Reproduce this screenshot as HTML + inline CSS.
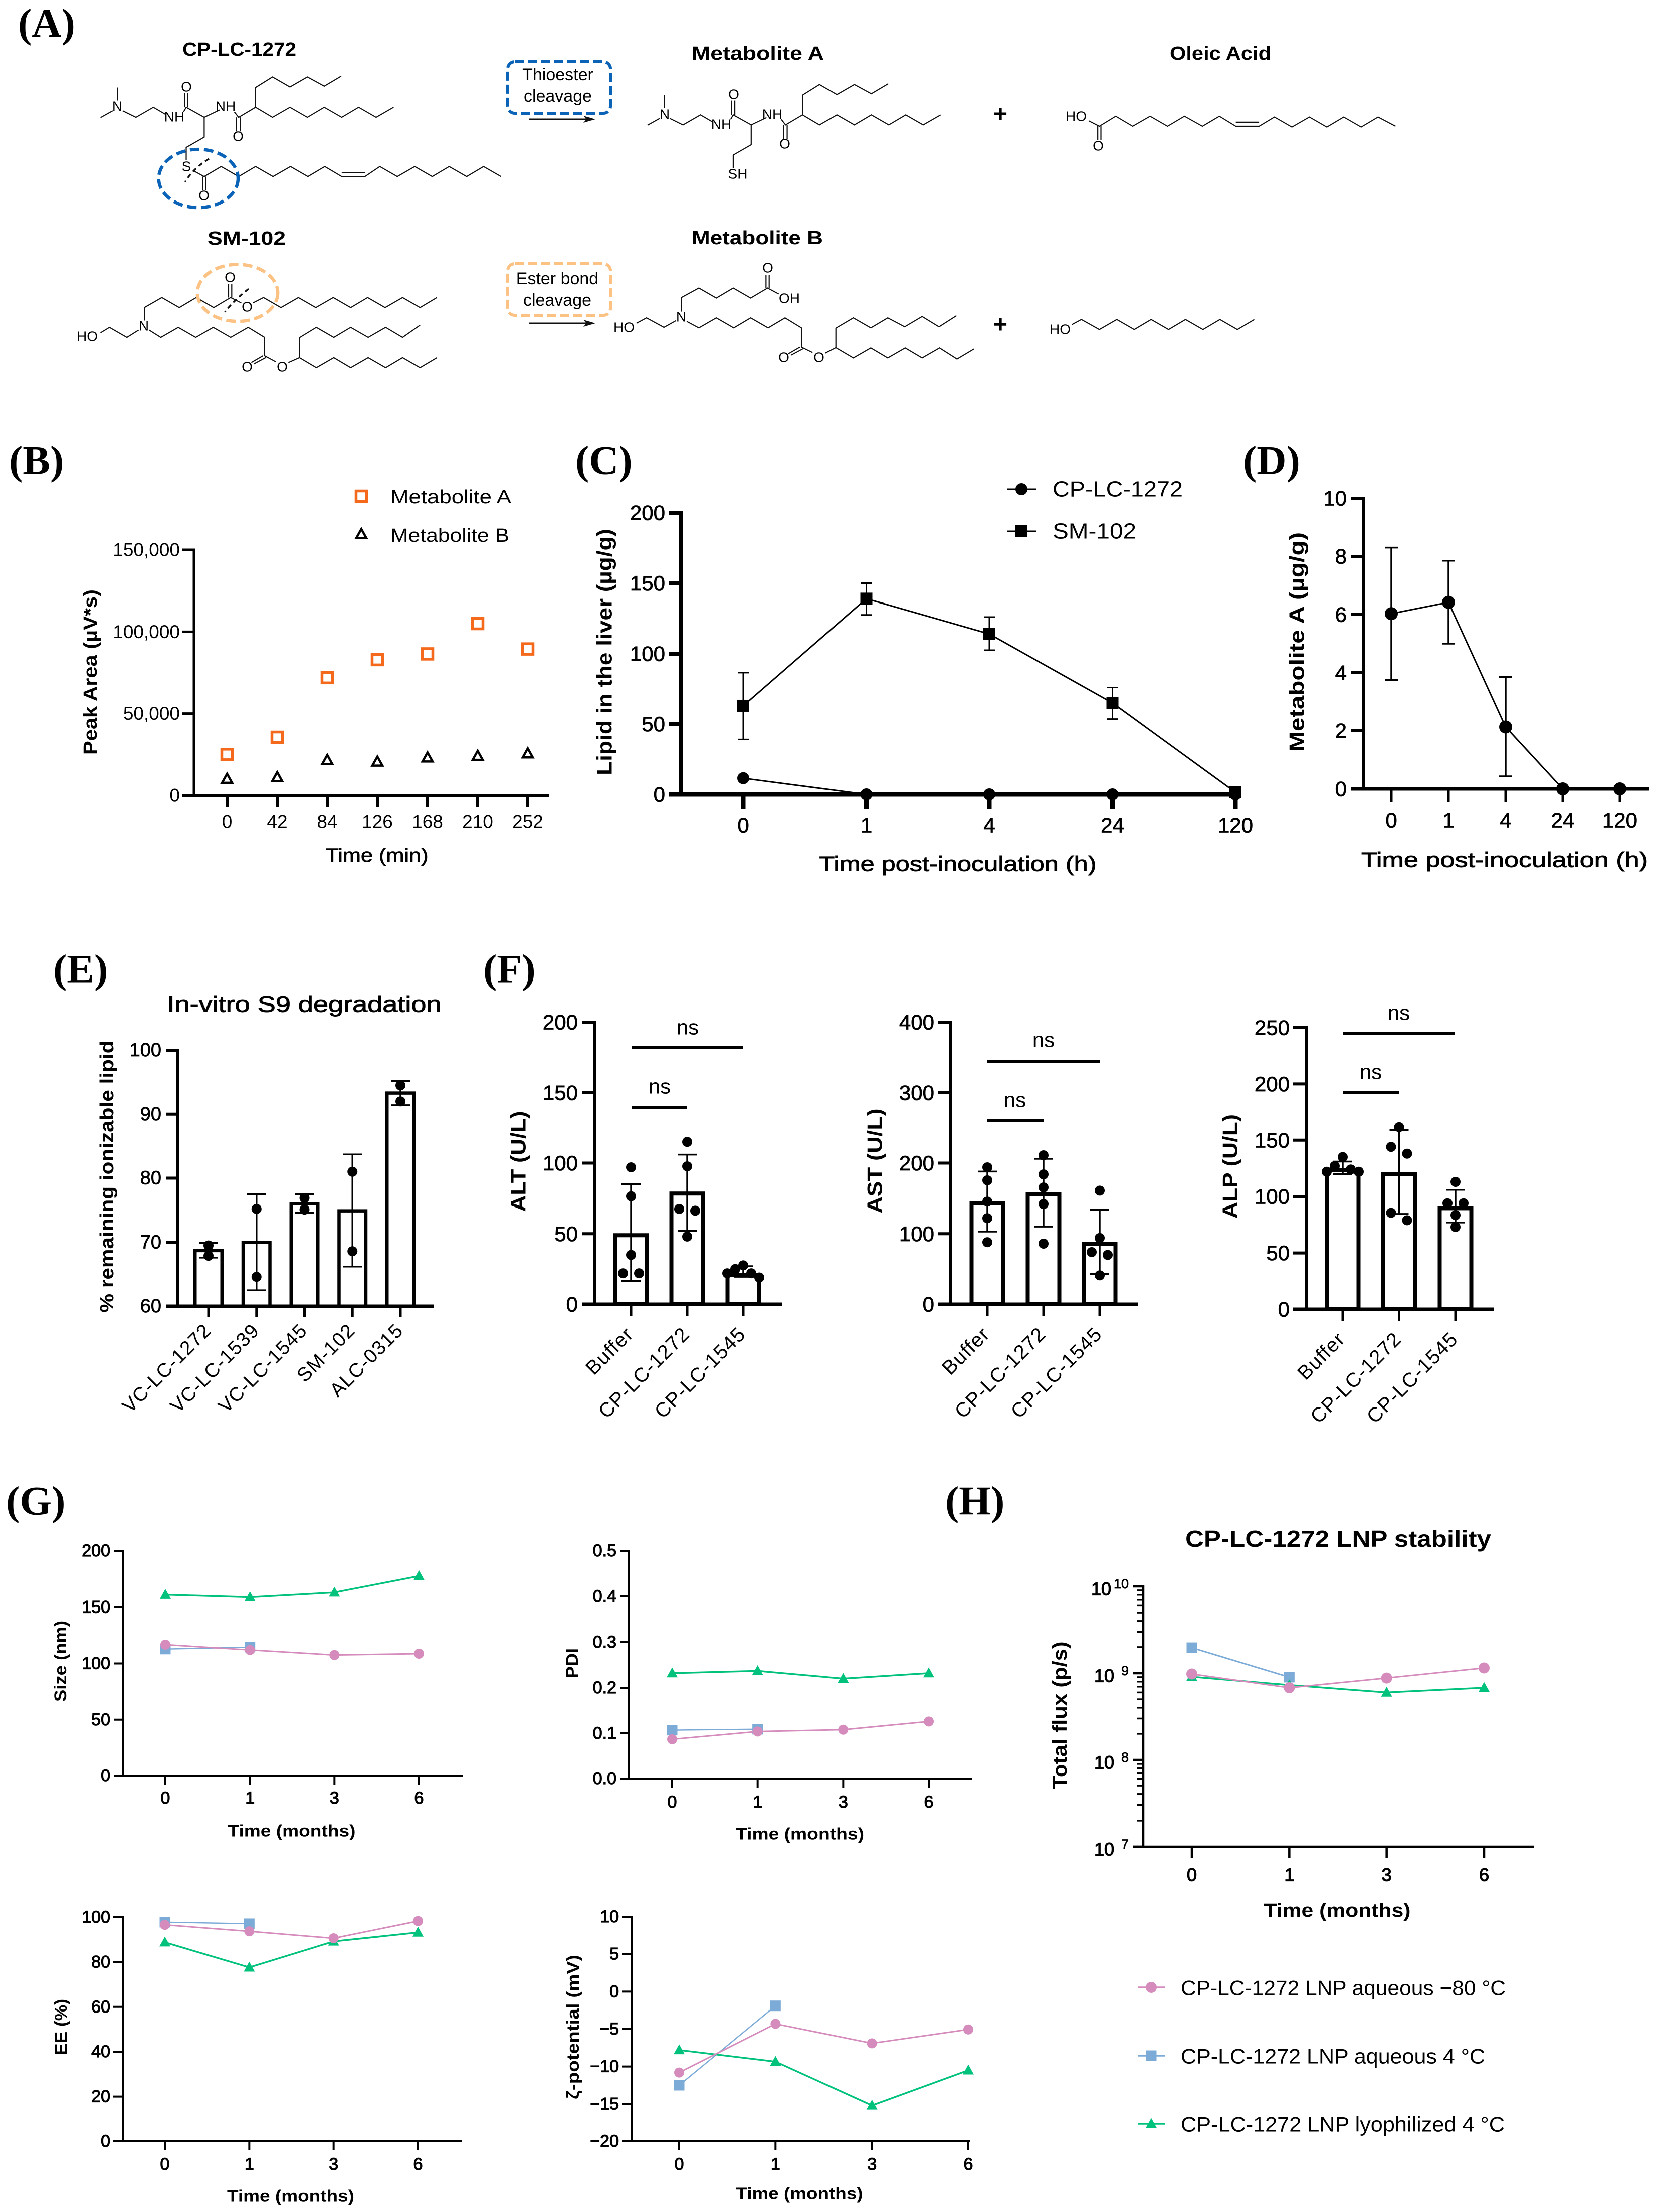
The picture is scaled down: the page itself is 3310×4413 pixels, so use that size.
<!DOCTYPE html>
<html lang="en">
<head>
<meta charset="utf-8">
<title>Lipid metabolism, biodistribution, tolerability and LNP stability figure</title>
<style>
html,body{margin:0;padding:0;background:#fff;}
svg{display:block;}
text{font-family:"Liberation Sans","DejaVu Sans",sans-serif;fill:#000;}
.panel-letter{font-family:"Liberation Serif",serif;font-weight:700;font-size:82px;dominant-baseline:central;}
.chem-bond *{vector-effect:non-scaling-stroke;}
.atom{font-size:28px;text-anchor:middle;dominant-baseline:central;}
.chem-title{font-size:38px;font-weight:700;dominant-baseline:central;}
.box-text{font-size:34px;text-anchor:middle;dominant-baseline:central;}
</style>
</head>
<body>
<svg id="figure" xmlns="http://www.w3.org/2000/svg" width="3310" height="4413" viewBox="0 0 3310 4413">
<rect x="0" y="0" width="3310" height="4413" fill="#fff"/>

<text class="panel-letter" x="36" y="46">(A)</text>
<text class="panel-letter" x="18" y="918">(B)</text>
<text class="panel-letter" x="1148" y="918">(C)</text>
<text class="panel-letter" x="2480" y="918">(D)</text>
<text class="panel-letter" x="106" y="1933">(E)</text>
<text class="panel-letter" x="964" y="1933">(F)</text>
<text class="panel-letter" x="12" y="2994">(G)</text>
<text class="panel-letter" x="1886" y="2994">(H)</text>

<g id="panel-a">
<g class="chem-bond" transform="scale(1.0555,0.542)" fill="none" stroke="#111" stroke-width="2.2">
  <g>
    <polyline points="222,322 222,370"/><polyline points="190,433 213,408"/>
    <polyline points="232,408 257,432 290,395 312,420"/>
    <polyline points="347,412 352,395 386,432 415,405"/>
    <polyline points="349,395 349,342"/><polyline points="355,395 355,342"/>
    <polyline points="443,412 451,432 483,395 483,322 515,283 548,320 581,283 613,317 645,280"/>
    <polyline points="447,432 447,484"/><polyline points="454,432 454,484"/>
    <polyline points="483,395 515,432 548,395 581,432 613,395 646,432 678,395 711,432 744,395"/>
    <polyline points="386,432 386,505 352,543 352,590"/>
    <polyline points="365,628 386,650 418,613 451,650 483,613 516,650 549,613 582,650 614,613 646,650 690,650 718,613 751,650 784,613 817,650 849,613 882,650 914,613 947,650"/>
    <polyline points="383,650 383,700"/><polyline points="389,650 389,700"/>
    <polyline points="646,636 690,636"/>
  </g>
  <g transform="translate(1034,28)">
    <polyline points="222,322 222,370"/><polyline points="190,433 213,408"/>
    <polyline points="232,408 257,432 290,395 312,420"/>
    <polyline points="347,412 352,395 386,432 415,405"/>
    <polyline points="349,395 349,342"/><polyline points="355,395 355,342"/>
    <polyline points="443,412 451,432 483,395 483,322 515,283 548,320 581,283 613,317 645,280"/>
    <polyline points="447,432 447,484"/><polyline points="454,432 454,484"/>
    <polyline points="483,395 515,432 548,395 581,432 613,395 646,432 678,395 711,432 744,395"/>
    <polyline points="386,432 386,505 352,543 352,590"/>
  </g>
  <g>
    <polyline points="2058,445 2078,465 2109,428 2141,465 2174,428 2207,465 2239,428 2273,465 2305,428 2336,465 2380,465 2409,431 2442,468 2475,431 2508,468 2540,431 2573,468 2605,431 2638,465"/>
    <polyline points="2075,465 2075,515"/><polyline points="2081,465 2081,515"/>
    <polyline points="2336,450 2380,450"/>
  </g>
  <g>
    <polyline points="190,1225 207,1205 240,1242 262,1215"/>
    <polyline points="273,1180 273,1132 306,1095 339,1132 371,1095 404,1132 436,1095 456,1115"/>
    <polyline points="432,1095 432,1045"/><polyline points="438,1095 438,1045"/>
    <polyline points="478,1115 498,1095 531,1132 564,1095 597,1132 630,1095 663,1132 695,1095 728,1132 761,1095 794,1132 826,1095"/>
    <polyline points="282,1215 304,1242 337,1205 370,1242 403,1205 436,1242 469,1205 500,1242 500,1310 521,1332"/>
    <polyline points="497,1310 475,1335"/><polyline points="503,1316 480,1340"/>
    <polyline points="545,1335 566,1317 566,1243 598,1205 631,1242 663,1205 696,1242 729,1205 761,1242 794,1197"/>
    <polyline points="566,1317 598,1354 631,1317 663,1354 696,1317 729,1354 761,1317 794,1354 826,1317"/>
  </g>
  <g>
    <polyline points="1203,1190 1222,1170 1255,1205 1278,1180"/>
    <polyline points="1288,1147 1288,1095 1321,1060 1354,1097 1386,1060 1419,1097 1451,1060 1472,1082"/>
    <polyline points="1448,1060 1448,1012"/><polyline points="1454,1060 1454,1012"/>
    <polyline points="1298,1183 1321,1207 1354,1170 1387,1207 1419,1170 1452,1207 1484,1170 1515,1207 1515,1278 1536,1298"/>
    <polyline points="1512,1278 1490,1303"/><polyline points="1518,1284 1495,1308"/>
    <polyline points="1560,1300 1580,1280 1580,1208 1613,1170 1646,1207 1678,1170 1710,1203 1743,1165 1775,1203 1808,1162"/>
    <polyline points="1580,1280 1613,1318 1646,1281 1678,1318 1711,1281 1743,1318 1776,1281 1809,1322 1841,1285"/>
  </g>
  <g>
    <polyline points="2026,1195 2044,1176 2078,1213 2111,1176 2144,1213 2176,1176 2209,1213 2241,1176 2274,1213 2306,1176 2339,1213 2371,1176"/>
  </g>
  <path d="M395,585 Q365,620 350,670" stroke-width="3.5" stroke-dasharray="9 7"/>
  <path d="M470,1063 Q445,1100 425,1148" stroke-width="3.5" stroke-dasharray="9 7"/>
  <ellipse cx="375" cy="657" rx="75" ry="107" stroke="#0b63b8" stroke-width="6.5" stroke-dasharray="19 9"/>
  <ellipse cx="449" cy="1078" rx="76" ry="105" stroke="#fcc283" stroke-width="6.5" stroke-dasharray="19 9"/>
</g>

<g>
<text class="atom" x="372" y="173">O</text>
<text class="atom" x="234" y="212">N</text>
<text class="atom" x="348" y="233">NH</text>
<text class="atom" x="450" y="212">NH</text>
<text class="atom" x="475" y="272">O</text>
<text class="atom" x="372" y="332">S</text>
<text class="atom" x="407" y="390">O</text>
<text class="atom" x="1464" y="188">O</text>
<text class="atom" x="1326" y="228">N</text>
<text class="atom" x="1439" y="248">NH</text>
<text class="atom" x="1541" y="228">NH</text>
<text class="atom" x="1566" y="287">O</text>
<text class="atom" x="1472" y="347">SH</text>
<text class="atom" x="2147" y="232">HO</text>
<text class="atom" x="2191" y="291">O</text>
<text class="atom" x="459" y="553">O</text>
<text class="atom" x="493" y="612">O</text>
<text class="atom" x="287" y="650">N</text>
<text class="atom" x="174" y="671">HO</text>
<text class="atom" x="493" y="732">O</text>
<text class="atom" x="563" y="732">O</text>
<text class="atom" x="1532" y="534">O</text>
<text class="atom" x="1575" y="595">OH</text>
<text class="atom" x="1359" y="632">N</text>
<text class="atom" x="1245" y="653">HO</text>
<text class="atom" x="1564" y="713">O</text>
<text class="atom" x="1634" y="713">O</text>
<text class="atom" x="2115" y="657">HO</text>
</g>

<text class="chem-title" x="364" y="99" textLength="227" lengthAdjust="spacingAndGlyphs">CP-LC-1272</text>
<text class="chem-title" x="1380" y="107" textLength="264" lengthAdjust="spacingAndGlyphs">Metabolite A</text>
<text class="chem-title" x="2334" y="107" textLength="202" lengthAdjust="spacingAndGlyphs">Oleic Acid</text>
<text class="chem-title" x="414" y="476" textLength="156" lengthAdjust="spacingAndGlyphs">SM-102</text>
<text class="chem-title" x="1380" y="475" textLength="262" lengthAdjust="spacingAndGlyphs">Metabolite B</text>

<rect x="1013" y="123" width="205" height="103" rx="14" fill="none" stroke="#0b63b8" stroke-width="6" stroke-dasharray="18 8"/>
<text class="box-text" x="1113" y="149">Thioester</text>
<text class="box-text" x="1113" y="192">cleavage</text>
<rect x="1013" y="526" width="205" height="103" rx="14" fill="none" stroke="#fcc283" stroke-width="6" stroke-dasharray="18 8"/>
<text class="box-text" x="1112" y="556">Ester bond</text>
<text class="box-text" x="1112" y="599">cleavage</text>
<g stroke="#111" stroke-width="3"><line x1="1055" y1="238" x2="1178" y2="238"/><polygon points="1188,238 1164,231 1170,238 1164,245" fill="#111" stroke="none"/></g>
<g stroke="#111" stroke-width="3"><line x1="1055" y1="645" x2="1178" y2="645"/><polygon points="1188,645 1164,638 1170,645 1164,652" fill="#111" stroke="none"/></g>
<text x="1996" y="228" font-size="48" font-weight="700" text-anchor="middle" dominant-baseline="central">+</text>
<text x="1996" y="648" font-size="48" font-weight="700" text-anchor="middle" dominant-baseline="central">+</text>
</g>

<g id="charts"></g>
</svg>

<script>
/* ---------- Panel B ---------- */
const bTimeLabels = ['0', '42', '84', '126', '168', '210', '252'];
const bMetaboliteA = [25000, 35500, 72000, 83000, 86500, 105000, 89500];
const bMetaboliteB = [10000, 11000, 21500, 20500, 23000, 24000, 25500];
const bYTicks = [0, 50000, 100000, 150000];

/* ---------- Panel C ---------- */
const cTimeLabels = ['0', '1', '4', '24', '120'];
const cYTicks = [0, 50, 100, 150, 200];
const cLipidCP = [11.5, 0, 0, 0, 0];
const cLipidSM = [63, 139, 114, 65, 1.5];
const cLipidSMLow = [39, 127.5, 102.5, 53.5, 1.5];
const cLipidSMHigh = [86.5, 150, 126, 76, 1.5];

/* ---------- Panel D ---------- */
const dTimeLabels = ['0', '1', '4', '24', '120'];
const dYTicks = [0, 2, 4, 6, 8, 10];
const dMetaboliteA = [6.03, 6.42, 2.13, 0, 0];
const dMetaboliteALow = [3.75, 5.0, 0.43, 0, 0];
const dMetaboliteAHigh = [8.3, 7.85, 3.85, 0, 0];

/* ---------- Panel E ---------- */
const eLipids = ['VC-LC-1272', 'VC-LC-1539', 'VC-LC-1545', 'SM-102', 'ALC-0315'];
const eYTicks = [60, 70, 80, 90, 100];
const eBars = [68.7, 70, 76, 74.9, 93.3];
const eErrLow = [67.6, 62.5, 74.6, 66.2, 91.4];
const eErrHigh = [69.9, 77.5, 77.5, 83.7, 95.2];
const ePoints = [[69.5, 67.9], [75.2, 64.6], [76.9, 75.1], [81, 68.6], [94.5, 92]];

/* ---------- Panel F ---------- */
const fGroups = ['Buffer', 'CP-LC-1272', 'CP-LC-1545'];
const altTicks = [0, 50, 100, 150, 200];
const altBars = [50, 79.5, 22];
const altErrLow = [16.5, 52, 19.5];
const altErrHigh = [85, 106, 27];
const altPoints = [[97, 76.5, 35, 22, 22], [115, 97.7, 67.5, 66.3, 48], [27.6, 25, 22, 22, 19]];
const astTicks = [0, 100, 200, 300, 400];
const astBars = [145, 158, 88];
const astErrLow = [103, 110, 43];
const astErrHigh = [188, 206, 134];
const astPoints = [[194, 175.6, 145.5, 122, 88], [211, 184, 165.5, 142, 86], [161, 94, 74, 70, 41]];
const alpTicks = [0, 50, 100, 150, 200, 250];
const alpBars = [125, 121, 91];
const alpErrLow = [120, 84.6, 77];
const alpErrHigh = [131, 159, 106];
const alpPoints = [[135, 127, 124, 122, 122], [161.6, 144, 138, 85.6, 79], [113, 94, 94, 83.6, 73]];

/* ---------- Panels G and H ---------- */
const stabilityMonths = ['0', '1', '3', '6'];
const sizeTicks = [0, 50, 100, 150, 200];
const sizeMinus80 = [116.7, 112, 107.5, 108.7];
const sizeAq4 = [112.8, 114.5];
const sizeLyo4 = [161, 158.8, 163, 177.6];
const pdiTicks = [0, 0.1, 0.2, 0.3, 0.4, 0.5];
const pdiMinus80 = [0.087, 0.104, 0.108, 0.126];
const pdiAq4 = [0.107, 0.109];
const pdiLyo4 = [0.232, 0.237, 0.22, 0.232];
const eeTicks = [0, 20, 40, 60, 80, 100];
const eeMinus80 = [96.6, 93.7, 90.6, 98.3];
const eeAq4 = [97.8, 97.1];
const eeLyo4 = [88.8, 77.6, 89.2, 93.2];
const zetaTicks = [-20, -15, -10, -5, 0, 5, 10];
const zetaMinus80 = [-10.8, -4.3, -6.9, -5.05];
const zetaAq4 = [-12.5, -1.9];
const zetaLyo4 = [-7.8, -9.35, -15.2, -10.5];
const fluxExponents = [7, 8, 9, 10];
const fluxMinus80 = [9.8e8, 6.8e8, 8.8e8, 1.15e9];
const fluxAq4 = [1.97e9, 9e8];
const fluxLyo4 = [9.1e8, 7.3e8, 6e8, 6.8e8];
const legendLabels = ['CP-LC-1272 LNP aqueous −80 °C', 'CP-LC-1272 LNP aqueous 4 °C', 'CP-LC-1272 LNP lyophilized 4 °C'];

const PINK = '#d58cbc';
const BLUE = '#7cabd8';
const GREEN = '#00c27c';
const ORANGE = '#f4691c';

/* ---------- drawing helpers ---------- */
const SVG_NS = 'http://www.w3.org/2000/svg';
const chartsRoot = document.getElementById('charts');

function node(tag, attrs, parent, name) {
  const el = document.createElementNS(SVG_NS, tag);
  for (const key in attrs) el.setAttribute(key, attrs[key]);
  
  
  parent.appendChild(el);
  return el;
}
function group(parent, name) {
  return node('g', {}, parent, name);
}
function label(parent, str, x, y, o, name) {
  o = o || {};
  const a = {
    x: x, y: y,
    'font-size': o.size || 38,
    'text-anchor': o.anchor || 'middle',
    'dominant-baseline': 'central'
  };
  if (o.weight) a['font-weight'] = o.weight;
  if (o.heavy) { a.stroke = '#000'; a['stroke-width'] = o.heavy; }
  if (o.len) { a.textLength = o.len; a.lengthAdjust = 'spacingAndGlyphs'; }
  if (o.spacing) a['letter-spacing'] = o.spacing;
  if (o.rot) a.transform = 'rotate(' + o.rot + ' ' + x + ' ' + y + ')';
  const el = node('text', a, parent, name);
  el.textContent = str;
  return el;
}
function linearAxis(d0, d1, p0, p1) {
  return function (v) { return p0 + (v - d0) * (p1 - p0) / (d1 - d0); };
}
function logAxis(e0, e1, p0, p1) {
  return function (v) { return p0 + (Math.log10(v) - e0) * (p1 - p0) / (e1 - e0); };
}
function categoryAxis(count, first, last) {
  return function (i) { return first + i * (last - first) / (count - 1); };
}
function hLine(parent, x1, x2, y, w, name) {
  return node('line', { x1: x1, x2: x2, y1: y, y2: y, stroke: '#000', 'stroke-width': w }, parent, name);
}
function vLine(parent, x, y1, y2, w, name) {
  return node('line', { x1: x, x2: x, y1: y1, y2: y2, stroke: '#000', 'stroke-width': w }, parent, name);
}
function drawAxes(g, o) {
  const bottom = o.bottom, top = o.top;
  vLine(g, o.axisX, top - o.ySw / 2, bottom + o.xSw / 2, o.ySw, 'y-axis-line');
  hLine(g, o.tickLeft, o.end, bottom, o.xSw, 'x-axis-line');
  o.yTicks.forEach(function (t) {
    const y = o.y(t);
    if (Math.abs(y - bottom) > 1) hLine(g, o.tickLeft, o.axisX, y, o.ySw, 'y-axis-tick');
    const str = o.yFormat ? o.yFormat(t) : String(t);
    label(g, str, o.yLabelRight, y + (o.yLabelShift || 0), { size: o.tickSize, anchor: 'end', weight: o.tickWeight, heavy: o.tickHeavy }, 'y-tick-label');
  });
  o.cats.forEach(function (c, i) {
    const x = o.x(i);
    vLine(g, x, bottom, bottom + o.tickDown, o.xTickW || o.xSw, 'x-axis-tick');
    if (o.rotated) {
      label(g, c, x + o.rotDx, bottom + o.rotDy, { size: o.rotSize || 40, anchor: 'end', rot: -45, spacing: 1.5 }, 'x-tick-label');
    } else {
      label(g, c, x, o.xLabelY, { size: o.tickSize, weight: o.tickWeight, heavy: o.tickHeavy }, 'x-tick-label');
    }
  });
}
function drawLine(g, xScale, yScale, values, color, w, name) {
  const pts = values.map(function (v, i) { return xScale(i) + ',' + yScale(v); }).join(' ');
  return node('polyline', { points: pts, fill: 'none', stroke: color, 'stroke-width': w, 'stroke-linejoin': 'round' }, g, name);
}
function circleMark(g, cx, cy, r, fill, name) {
  return node('circle', { cx: cx, cy: cy, r: r, fill: fill }, g, name);
}
function squareMark(g, cx, cy, s, fill, name, stroke, sw) {
  const a = { x: cx - s / 2, y: cy - s / 2, width: s, height: s, fill: fill };
  if (stroke) { a.stroke = stroke; a['stroke-width'] = sw; }
  return node('rect', a, g, name);
}
function triangleMark(g, cx, cy, s, fill, name, stroke, sw) {
  const h = s * 0.9;
  const pts = cx + ',' + (cy - h * 0.58) + ' ' + (cx + s / 2) + ',' + (cy + h * 0.42) + ' ' + (cx - s / 2) + ',' + (cy + h * 0.42);
  const a = { points: pts, fill: fill };
  if (stroke) { a.stroke = stroke; a['stroke-width'] = sw; a['stroke-linejoin'] = 'miter'; }
  return node('polygon', a, g, name);
}
function errorBar(g, cx, yLow, yHigh, cap, w, name) {
  const e = group(g, name);
  vLine(e, cx, yLow, yHigh, w, 'error-bar-stem');
  hLine(e, cx - cap, cx + cap, yLow, w, 'error-bar-cap');
  hLine(e, cx - cap, cx + cap, yHigh, w, 'error-bar-cap');
}
function swarmOffsets(values, yScale, step) {
  const idx = values.map(function (v, i) { return i; }).sort(function (a, b) { return values[b] - values[a]; });
  const out = values.map(function () { return 0; });
  let cluster = [];
  function flush() {
    const n = cluster.length;
    let off = [0];
    if (n === 2) off = [-1, 1];
    if (n === 3) off = [0, -1, 1];
    if (n === 4) off = [-0.5, 0.5, -1.5, 1.5];
    if (n >= 5) off = [0, -1, 1, -2, 2];
    cluster.forEach(function (k, j) { out[k] = (off[j] || 0) * step; });
    cluster = [];
  }
  idx.forEach(function (k) {
    if (cluster.length) {
      const prev = cluster[cluster.length - 1];
      if (Math.abs(yScale(values[k]) - yScale(values[prev])) >= 18) flush();
    }
    cluster.push(k);
  });
  flush();
  return out;
}
function barChart(g, o) {
  drawAxes(g, o);
  o.bars.forEach(function (v, i) {
    const cx = o.x(i);
    const half = o.barW / 2 - o.barSw / 2;
    const topY = o.y(v) + (o.barInset || 0);
    node('rect', { x: cx - half, y: topY, width: half * 2, height: o.bottom - topY, fill: 'none', stroke: '#000', 'stroke-width': o.barSw }, g, 'bar-' + o.cats[i].toLowerCase());
    errorBar(g, cx, o.y(o.low[i]), o.y(o.high[i]), o.cap, 3.5, 'error-bar');
    const offs = swarmOffsets(o.points[i], o.y, o.swarm);
    o.points[i].forEach(function (p, j) {
      circleMark(g, cx + offs[j], o.y(p), 10, '#000', 'data-point');
    });
  });
}
function significance(g, x1, x2, y, textX, textY, nameSuffix) {
  hLine(g, x1, x2, y, 6, 'significance-bar-' + nameSuffix);
  label(g, 'ns', textX, textY, { size: 42 }, 'significance-label-' + nameSuffix);
}
function stabilityPanel(name, o) {
  const g = group(chartsRoot, name);
  const x = categoryAxis(stabilityMonths.length, o.x0, o.x1);
  const y = o.yScale;
  const cfg = {
    axisX: o.axisX, top: o.top, bottom: o.bottom, end: o.end, tickLeft: o.tickLeft,
    ySw: 4, xSw: 4, tickDown: 18, yTicks: o.ticks, y: y, x: x, cats: stabilityMonths,
    yLabelRight: o.labelRight, xLabelY: o.xLabelY, tickSize: 34, tickWeight: 400, tickHeavy: 1.2,
    yFormat: o.format
  };
  drawAxes(g, cfg);
  drawLine(g, x, y, o.aq, BLUE, 2.5, 'aqueous-4c-line');
  o.aq.forEach(function (v, i) { squareMark(g, x(i), y(v), 21, BLUE, 'aqueous-4c-point'); });
  drawLine(g, x, y, o.lyo, GREEN, 3.5, 'lyophilized-4c-line');
  o.lyo.forEach(function (v, i) { triangleMark(g, x(i), y(v), 22, GREEN, 'lyophilized-4c-point'); });
  drawLine(g, x, y, o.m80, PINK, 3, 'aqueous-minus80c-line');
  o.m80.forEach(function (v, i) { circleMark(g, x(i), y(v), 10, PINK, 'aqueous-minus80c-point'); });
  label(g, o.yTitle, o.yTitleX, o.yTitleY, { size: 34, weight: 700, rot: -90, len: o.yTitleLen }, 'y-axis-title');
  label(g, 'Time (months)', o.titleX, o.titleY, { size: 33, weight: 700, len: o.titleLen }, 'x-axis-title');
}

/* ---------- Panel B drawing ---------- */
(function () {
  const g = group(chartsRoot, 'panel-b-peak-area-chart');
  const y = linearAxis(0, 150000, 1587, 1097);
  const x = categoryAxis(bTimeLabels.length, 453, 1053);
  drawAxes(g, {
    axisX: 387, top: 1097, bottom: 1587, end: 1095, tickLeft: 364, ySw: 5, xSw: 6, tickDown: 22,
    yTicks: bYTicks, y: y, x: x, cats: bTimeLabels, yLabelRight: 359, xLabelY: 1639, tickSize: 37,
    yFormat: function (t) { return t.toLocaleString('en-US'); }
  });
  bMetaboliteA.forEach(function (v, i) { squareMark(g, x(i), y(v), 21, 'none', 'metabolite-a-point', ORANGE, 5.5); });
  bMetaboliteB.forEach(function (v, i) { triangleMark(g, x(i), y(v), 20, 'none', 'metabolite-b-point', '#000', 4.5); });
  label(g, 'Peak Area (µV*s)', 181, 1341, { size: 38, weight: 700, rot: -90, len: 330 }, 'y-axis-title');
  label(g, 'Time (min)', 752, 1707, { size: 38, len: 205, heavy: 0.8 }, 'x-axis-title');
  const lg = group(g, 'legend');
  squareMark(lg, 721, 990, 21, 'none', 'legend-metabolite-a-marker', ORANGE, 5.5);
  label(lg, 'Metabolite A', 779, 992, { size: 38, anchor: 'start', len: 241 }, 'legend-metabolite-a');
  triangleMark(lg, 721, 1066, 20, 'none', 'legend-metabolite-b-marker', '#000', 4.5);
  label(lg, 'Metabolite B', 779, 1069, { size: 38, anchor: 'start', len: 237 }, 'legend-metabolite-b');
})();

/* ---------- Panel C drawing ---------- */
(function () {
  const g = group(chartsRoot, 'panel-c-lipid-liver-chart');
  const y = linearAxis(0, 200, 1585, 1023);
  const x = categoryAxis(cTimeLabels.length, 1483, 2465);
  drawAxes(g, {
    axisX: 1359, top: 1023, bottom: 1585, end: 2476, tickLeft: 1335, ySw: 8, xSw: 9, tickDown: 28,
    yTicks: cYTicks, y: y, x: x, cats: cTimeLabels, yLabelRight: 1327, xLabelY: 1646, tickSize: 42, tickHeavy: 0.8
  });
  drawLine(g, x, y, cLipidSM, '#000', 3, 'sm-102-line');
  drawLine(g, x, y, cLipidCP, '#000', 3, 'cp-lc-1272-line');
  cLipidSM.forEach(function (v, i) {
    errorBar(g, x(i), y(cLipidSMLow[i]), y(cLipidSMHigh[i]), 11, 3, 'sm-102-error-bar');
  });
  cLipidCP.forEach(function (v, i) { circleMark(g, x(i), y(v), 12, '#000', 'cp-lc-1272-point'); });
  cLipidSM.forEach(function (v, i) { squareMark(g, x(i), y(v), 24, '#000', 'sm-102-point'); });
  label(g, 'Lipid in the liver (µg/g)', 1206, 1301, { size: 42, weight: 700, rot: -90, len: 492 }, 'y-axis-title');
  label(g, 'Time post-inoculation (h)', 1911, 1723, { size: 42, heavy: 0.9, len: 553 }, 'x-axis-title');
  const lg = group(g, 'legend');
  hLine(lg, 2009, 2067, 976, 3, 'legend-cp-lc-1272-line');
  circleMark(lg, 2038, 976, 12, '#000', 'legend-cp-lc-1272-marker');
  label(lg, 'CP-LC-1272', 2100, 976, { size: 44, anchor: 'start', len: 260 }, 'legend-cp-lc-1272');
  hLine(lg, 2009, 2067, 1060, 3, 'legend-sm-102-line');
  squareMark(lg, 2038, 1060, 24, '#000', 'legend-sm-102-marker');
  label(lg, 'SM-102', 2100, 1060, { size: 44, anchor: 'start', len: 167 }, 'legend-sm-102');
})();

/* ---------- Panel D drawing ---------- */
(function () {
  const g = group(chartsRoot, 'panel-d-metabolite-a-chart');
  const y = linearAxis(0, 10, 1574, 994);
  const x = categoryAxis(dTimeLabels.length, 2776, 3232);
  drawAxes(g, {
    axisX: 2721, top: 994, bottom: 1574, end: 3291, tickLeft: 2695, ySw: 6, xSw: 7, tickDown: 26, xTickW: 5,
    yTicks: dYTicks, y: y, x: x, cats: dTimeLabels, yLabelRight: 2687, xLabelY: 1636, tickSize: 42, tickHeavy: 0.8
  });
  drawLine(g, x, y, dMetaboliteA, '#000', 3, 'metabolite-a-line');
  dMetaboliteA.forEach(function (v, i) {
    if (dMetaboliteAHigh[i] > dMetaboliteALow[i]) errorBar(g, x(i), y(dMetaboliteALow[i]), y(dMetaboliteAHigh[i]), 13, 3.5, 'metabolite-a-error-bar');
    circleMark(g, x(i), y(v), 13, '#000', 'metabolite-a-point');
  });
  label(g, 'Metabolite A (µg/g)', 2587, 1281, { size: 42, weight: 700, rot: -90, len: 438 }, 'y-axis-title');
  label(g, 'Time post-inoculation (h)', 3002, 1715, { size: 42, heavy: 0.9, len: 572 }, 'x-axis-title');
})();

/* ---------- Panel E drawing ---------- */
(function () {
  const g = group(chartsRoot, 'panel-e-s9-degradation-chart');
  const y = linearAxis(60, 100, 2606, 2095);
  const x = categoryAxis(eLipids.length, 416, 799);
  barChart(g, {
    axisX: 354, top: 2095, bottom: 2606, end: 865, tickLeft: 332, ySw: 6, xSw: 7, tickDown: 22, xTickW: 5,
    yTicks: eYTicks, y: y, x: x, cats: eLipids, yLabelRight: 322, tickSize: 38, tickHeavy: 0.8, rotated: true, rotSize: 39,
    rotDx: -1, rotDy: 42,
    bars: eBars, low: eErrLow, high: eErrHigh, points: ePoints, barW: 60, barSw: 6.5, cap: 19, swarm: 14
  });
  label(g, 'In-vitro S9 degradation', 607, 2004, { size: 44, heavy: 0.9, len: 547 }, 'chart-title');
  label(g, '% remaining ionizable lipid', 214, 2347, { size: 38, weight: 700, rot: -90, len: 543 }, 'y-axis-title');
})();

/* ---------- Panel F drawing ---------- */
(function () {
  const alt = group(chartsRoot, 'panel-f-alt-chart');
  const altY = linearAxis(0, 200, 2602, 2039);
  const altX = categoryAxis(fGroups.length, 1259, 1483);
  barChart(alt, {
    axisX: 1186, top: 2039, bottom: 2602, end: 1560, tickLeft: 1161, ySw: 6, xSw: 7, tickDown: 24, xTickW: 5,
    yTicks: altTicks, y: altY, x: altX, cats: fGroups, yLabelRight: 1153, tickSize: 42, tickHeavy: 0.8, rotated: true,
    rotDx: -2, rotDy: 53, barInset: 3,
    bars: altBars, low: altErrLow, high: altErrHigh, points: altPoints, barW: 71, barSw: 8, cap: 19, swarm: 16
  });
  label(alt, 'ALT (U/L)', 1034, 2317, { size: 42, weight: 700, rot: -90, len: 201 }, 'y-axis-title');
  significance(alt, 1261, 1482, 2090, 1372, 2049, 'buffer-vs-cp-lc-1545');
  significance(alt, 1261, 1371, 2209, 1316, 2167, 'buffer-vs-cp-lc-1272');

  const ast = group(chartsRoot, 'panel-f-ast-chart');
  const astY = linearAxis(0, 400, 2602, 2039);
  const astX = categoryAxis(fGroups.length, 1970, 2194);
  barChart(ast, {
    axisX: 1896, top: 2039, bottom: 2602, end: 2270, tickLeft: 1871, ySw: 6, xSw: 7, tickDown: 24, xTickW: 5,
    yTicks: astTicks, y: astY, x: astX, cats: fGroups, yLabelRight: 1864, tickSize: 42, tickHeavy: 0.8, rotated: true,
    rotDx: -2, rotDy: 53, barInset: 3,
    bars: astBars, low: astErrLow, high: astErrHigh, points: astPoints, barW: 71, barSw: 8, cap: 19, swarm: 16
  });
  label(ast, 'AST (U/L)', 1745, 2316, { size: 42, weight: 700, rot: -90, len: 209 }, 'y-axis-title');
  significance(ast, 1970, 2194, 2117, 2082, 2074, 'buffer-vs-cp-lc-1545');
  significance(ast, 1970, 2082, 2235, 2025, 2194, 'buffer-vs-cp-lc-1272');

  const alp = group(chartsRoot, 'panel-f-alp-chart');
  const alpY = linearAxis(0, 250, 2612, 2050);
  const alpX = categoryAxis(fGroups.length, 2679, 2904);
  barChart(alp, {
    axisX: 2606, top: 2050, bottom: 2612, end: 2980, tickLeft: 2580, ySw: 6, xSw: 7, tickDown: 24, xTickW: 5,
    yTicks: alpTicks, y: alpY, x: alpX, cats: fGroups, yLabelRight: 2573, tickSize: 42, tickHeavy: 0.8, rotated: true,
    rotDx: -2, rotDy: 53, barInset: 3,
    bars: alpBars, low: alpErrLow, high: alpErrHigh, points: alpPoints, barW: 71, barSw: 8, cap: 19, swarm: 16
  });
  label(alp, 'ALP (U/L)', 2454, 2327, { size: 42, weight: 700, rot: -90, len: 208 }, 'y-axis-title');
  significance(alp, 2679, 2903, 2062, 2791, 2020, 'buffer-vs-cp-lc-1545');
  significance(alp, 2679, 2791, 2180, 2735, 2138, 'buffer-vs-cp-lc-1272');
})();

/* ---------- Panel G drawing ---------- */
stabilityPanel('panel-g-size-chart', {
  x0: 330, x1: 836, axisX: 246, top: 3094, bottom: 3543, end: 923, tickLeft: 228,
  yScale: linearAxis(0, 200, 3543, 3094), ticks: sizeTicks, labelRight: 220, xLabelY: 3588,
  m80: sizeMinus80, aq: sizeAq4, lyo: sizeLyo4,
  yTitle: 'Size (nm)', yTitleX: 121, yTitleY: 3314, yTitleLen: 162,
  titleX: 582, titleY: 3652, titleLen: 255
});
stabilityPanel('panel-g-pdi-chart', {
  x0: 1341, x1: 1853, axisX: 1255, top: 3094, bottom: 3549, end: 1940, tickLeft: 1237,
  yScale: linearAxis(0, 0.5, 3549, 3094), ticks: pdiTicks, labelRight: 1230, xLabelY: 3596,
  format: function (t) { return t.toFixed(1); },
  m80: pdiMinus80, aq: pdiAq4, lyo: pdiLyo4,
  yTitle: 'PDI', yTitleX: 1142, yTitleY: 3318, yTitleLen: 60,
  titleX: 1596, titleY: 3658, titleLen: 256
});
stabilityPanel('panel-g-ee-chart', {
  x0: 329, x1: 834, axisX: 245, top: 3825, bottom: 4272, end: 921, tickLeft: 226,
  yScale: linearAxis(0, 100, 4272, 3825), ticks: eeTicks, labelRight: 220, xLabelY: 4318,
  m80: eeMinus80, aq: eeAq4, lyo: eeLyo4,
  yTitle: 'EE (%)', yTitleX: 122, yTitleY: 4044, yTitleLen: 112,
  titleX: 580, titleY: 4381, titleLen: 254
});
stabilityPanel('panel-g-zeta-potential-chart', {
  x0: 1355, x1: 1932, axisX: 1260, top: 3824, bottom: 4272, end: 1935, tickLeft: 1241,
  yScale: linearAxis(-20, 10, 4272, 3824), ticks: zetaTicks, labelRight: 1235, xLabelY: 4318,
  format: function (t) { return String(t).replace('-', '−'); },
  m80: zetaMinus80, aq: zetaAq4, lyo: zetaLyo4,
  yTitle: 'ζ-potential (mV)', yTitleX: 1144, yTitleY: 4044, yTitleLen: 288,
  titleX: 1595, titleY: 4376, titleLen: 253
});

/* ---------- Panel H drawing ---------- */
(function () {
  const g = group(chartsRoot, 'panel-h-total-flux-chart');
  const y = logAxis(7, 10, 3684, 3165);
  const x = categoryAxis(stabilityMonths.length, 2378, 2961);
  vLine(g, 2281, 3163, 3686, 4.5, 'y-axis-line');
  hLine(g, 2260, 3060, 3684, 4.5, 'x-axis-line');
  fluxExponents.forEach(function (e) {
    const py = y(Math.pow(10, e));
    hLine(g, 2260, 2281, py, 4.5, 'y-axis-major-tick');
    const mainRight = e === 10 ? 2217 : 2223;
    label(g, '10', mainRight, py + 5, { size: 36, anchor: 'end', heavy: 1.3 }, 'y-tick-label');
    label(g, String(e), 2252, py - 5, { size: 27, anchor: 'end', heavy: 0.8 }, 'y-tick-exponent');
    if (e < 10) {
      for (let m = 2; m < 10; m++) {
        hLine(g, 2269, 2281, y(m * Math.pow(10, e)), 3.5, 'y-axis-minor-tick');
      }
    }
  });
  stabilityMonths.forEach(function (c, i) {
    vLine(g, x(i), 3684, 3706, 4.5, 'x-axis-tick');
    label(g, c, x(i), 3740, { size: 36, heavy: 1.3 }, 'x-tick-label');
  });
  drawLine(g, x, y, fluxAq4, BLUE, 3, 'aqueous-4c-line');
  fluxAq4.forEach(function (v, i) { squareMark(g, x(i), y(v), 21, BLUE, 'aqueous-4c-point'); });
  drawLine(g, x, y, fluxLyo4, GREEN, 3.5, 'lyophilized-4c-line');
  fluxLyo4.forEach(function (v, i) { triangleMark(g, x(i), y(v), 22, GREEN, 'lyophilized-4c-point'); });
  drawLine(g, x, y, fluxMinus80, PINK, 3, 'aqueous-minus80c-line');
  fluxMinus80.forEach(function (v, i) { circleMark(g, x(i), y(v), 11, PINK, 'aqueous-minus80c-point'); });
  label(g, 'CP-LC-1272 LNP stability', 2670, 3070, { size: 46, weight: 700, len: 610 }, 'chart-title');
  label(g, 'Total flux (p/s)', 2115, 3422, { size: 40, weight: 700, rot: -90, len: 295 }, 'y-axis-title');
  label(g, 'Time (months)', 2668, 3812, { size: 38, weight: 700, len: 293 }, 'x-axis-title');

  const lg = group(g, 'legend');
  const legendY = categoryAxis(legendLabels.length, 3965, 4237);
  const legendLens = [648, 607, 646];
  const legendColors = [PINK, BLUE, GREEN];
  legendLabels.forEach(function (t, i) {
    const ly = legendY(i);
    node('line', { x1: 2271, x2: 2324, y1: ly, y2: ly, stroke: legendColors[i], 'stroke-width': 3.5 }, lg, 'legend-line');
    if (i === 0) circleMark(lg, 2297, ly, 11, PINK, 'legend-marker');
    if (i === 1) squareMark(lg, 2297, ly, 21, BLUE, 'legend-marker');
    if (i === 2) triangleMark(lg, 2297, ly, 22, GREEN, 'legend-marker');
    label(lg, t, 2356, ly + 1, { size: 42, anchor: 'start', len: legendLens[i] }, 'legend-entry');
  });
})();
</script>
</body>
</html>
